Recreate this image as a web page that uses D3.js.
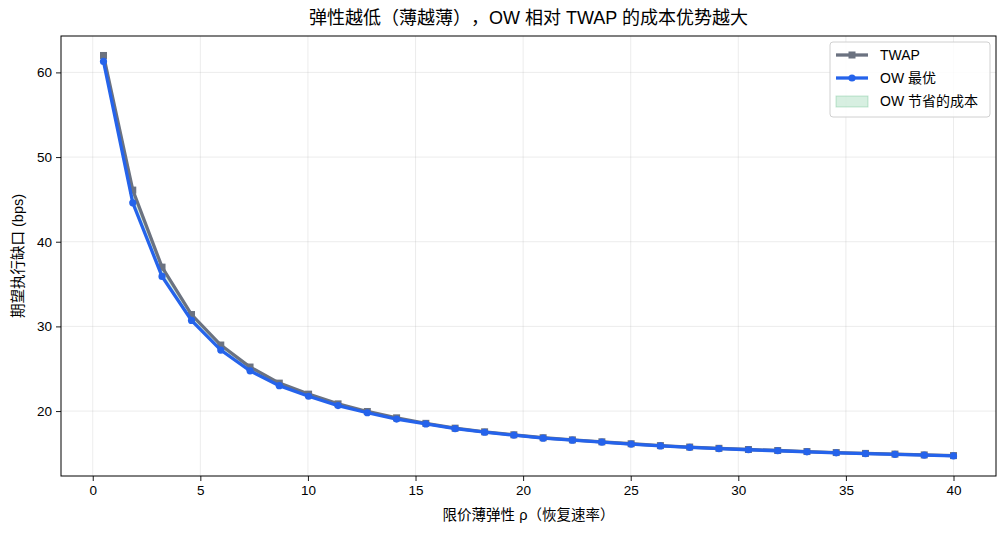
<!DOCTYPE html>
<html>
<head>
<meta charset="utf-8">
<script src="https://cdn.jsdelivr.net/npm/d3@7"></script>
<style>
  body { margin: 0; background: #fff; }
  svg text {
    font-family: "Liberation Sans", Arial, "Noto Sans CJK SC", sans-serif;
    fill: #000;
    text-spacing-trim: space-all;
  }
</style>
</head>
<body>
<div id="chart" lang="zh-CN"></div>
<script>
// ============== Data ==============
const rho = [0.50, 1.86, 3.22, 4.59, 5.95, 7.31, 8.67, 10.03, 11.40, 12.76,
  14.12, 15.48, 16.84, 18.21, 19.57, 20.93, 22.29, 23.66, 25.02, 26.38,
  27.74, 29.10, 30.47, 31.83, 33.19, 34.55, 35.91, 37.28, 38.64, 40.00];

const twap = [62.0, 46.1, 37.0, 31.4, 27.8, 25.2, 23.3, 22.0, 20.85, 19.95,
  19.2, 18.55, 17.98, 17.55, 17.2, 16.85, 16.6, 16.37, 16.14, 15.92,
  15.75, 15.6, 15.46, 15.34, 15.22, 15.1, 15.0, 14.92, 14.82, 14.74];

const ow = [61.3, 44.6, 35.9, 30.7, 27.2, 24.75, 23.0, 21.75, 20.65, 19.8,
  19.05, 18.48, 17.92, 17.5, 17.15, 16.8, 16.56, 16.33, 16.1, 15.88,
  15.72, 15.56, 15.43, 15.31, 15.19, 15.07, 14.97, 14.89, 14.79, 14.7];

const xTicks = [0, 5, 10, 15, 20, 25, 30, 35, 40];
const yTicks = [20, 30, 40, 50, 60];

const title = '弹性越低（薄越薄），OW 相对 TWAP 的成本优势越大';
const xLabel = '限价薄弹性 ρ（恢复速率）';
const yLabel = '期望执行缺口 (bps)';
const legendItems = ['TWAP', 'OW 最优', 'OW 节省的成本'];

// ============== Layout ==============
const width = 1008, height = 534;
const plotL = 61, plotR = 996, plotT = 36, plotB = 476;

const svg = d3.select('#chart').append('svg')
  .attr('width', width)
  .attr('height', height);

const x = d3.scaleLinear().domain([-1.475, 41.975]).range([plotL, plotR]);
const y = d3.scaleLinear().domain([12.33, 64.3]).range([plotB, plotT]);

// grid
svg.append('g').selectAll('line')
  .data(xTicks).enter().append('line')
    .attr('x1', d => x(d)).attr('x2', d => x(d))
    .attr('y1', plotT).attr('y2', plotB)
    .attr('stroke', '#b0b0b0').attr('stroke-opacity', 0.3).attr('stroke-width', 0.8);

svg.append('g').selectAll('line')
  .data(yTicks).enter().append('line')
    .attr('x1', plotL).attr('x2', plotR)
    .attr('y1', d => y(d)).attr('y2', d => y(d))
    .attr('stroke', '#b0b0b0').attr('stroke-opacity', 0.3).attr('stroke-width', 0.8);

// ============== Fill between ==============
const pts = rho.map((r, i) => ({r, t: twap[i], o: ow[i]}));

svg.append('path')
  .datum(pts)
  .attr('d', d3.area().x(d => x(d.r)).y0(d => y(d.o)).y1(d => y(d.t)))
  .attr('fill', '#22a55b').attr('fill-opacity', 0.18)
  .attr('stroke', '#22a55b').attr('stroke-opacity', 0.18);

// ============== Lines ==============
const line = d3.line().x(d => x(d[0])).y(d => y(d[1]));
const twapColor = '#6b7280', owColor = '#2563eb';

svg.append('path')
  .datum(rho.map((r, i) => [r, twap[i]]))
  .attr('d', line)
  .attr('fill', 'none').attr('stroke', twapColor).attr('stroke-width', 3.3);

svg.append('g').selectAll('rect')
  .data(rho.map((r, i) => [r, twap[i]]))
  .enter().append('rect')
    .attr('x', d => x(d[0]) - 3.5).attr('y', d => y(d[1]) - 3.5)
    .attr('width', 7).attr('height', 7)
    .attr('fill', twapColor);

svg.append('path')
  .datum(rho.map((r, i) => [r, ow[i]]))
  .attr('d', line)
  .attr('fill', 'none').attr('stroke', owColor).attr('stroke-width', 3.3);

svg.append('g').selectAll('circle')
  .data(rho.map((r, i) => [r, ow[i]]))
  .enter().append('circle')
    .attr('cx', d => x(d[0])).attr('cy', d => y(d[1]))
    .attr('r', 3.6)
    .attr('fill', owColor);

// ============== Axes ==============
const xAxis = svg.append('g')
  .attr('transform', `translate(0,${plotB})`)
  .call(d3.axisBottom(x).tickValues(xTicks).tickSize(5).tickPadding(4));
const yAxis = svg.append('g')
  .attr('transform', `translate(${plotL},0)`)
  .call(d3.axisLeft(y).tickValues(yTicks).tickSize(5).tickPadding(4));

[xAxis, yAxis].forEach(a => {
  a.select('.domain').remove();
  a.selectAll('text').attr('font-size', 13.5).attr('fill', '#000');
  a.selectAll('line').attr('stroke', '#000').attr('stroke-width', 0.9);
});

svg.append('rect')
  .attr('x', plotL).attr('y', plotT)
  .attr('width', plotR - plotL).attr('height', plotB - plotT)
  .attr('fill', 'none').attr('stroke', '#000').attr('stroke-width', 1);

// ============== Labels ==============
svg.append('text')
  .text(title)
  .attr('x', (plotL + plotR) / 2).attr('y', 24)
  .attr('text-anchor', 'middle').attr('font-size', 18);

svg.append('text')
  .text(xLabel)
  .attr('x', (plotL + plotR) / 2).attr('y', 520)
  .attr('text-anchor', 'middle').attr('font-size', 14.5);

svg.append('text')
  .text(yLabel)
  .attr('transform', `translate(23,${(plotT + plotB) / 2}) rotate(-90)`)
  .attr('text-anchor', 'middle').attr('font-size', 14.5);

// ============== Legend ==============
const lg = svg.append('g').attr('transform', 'translate(830,42)');
lg.append('rect')
  .attr('width', 160).attr('height', 75).attr('rx', 3)
  .attr('fill', '#fff').attr('fill-opacity', 0.85)
  .attr('stroke', '#d0d0d0');

const rowY = [13, 36, 59];
lg.append('line').attr('x1', 6).attr('x2', 38).attr('y1', rowY[0]).attr('y2', rowY[0])
  .attr('stroke', twapColor).attr('stroke-width', 3.3);
lg.append('rect').attr('x', 18.5).attr('y', rowY[0] - 3.5).attr('width', 7).attr('height', 7)
  .attr('fill', twapColor);
lg.append('line').attr('x1', 6).attr('x2', 38).attr('y1', rowY[1]).attr('y2', rowY[1])
  .attr('stroke', owColor).attr('stroke-width', 3.3);
lg.append('circle').attr('cx', 22).attr('cy', rowY[1]).attr('r', 3.6)
  .attr('fill', owColor);
lg.append('rect').attr('x', 6).attr('y', rowY[2] - 5).attr('width', 32).attr('height', 11)
  .attr('fill', '#22a55b').attr('fill-opacity', 0.18)
  .attr('stroke', '#22a55b').attr('stroke-opacity', 0.25);

lg.selectAll('text.leg')
  .data(legendItems).enter().append('text')
    .attr('class', 'leg')
    .text(d => d)
    .attr('x', 50).attr('y', (d, i) => rowY[i] + 5)
    .attr('font-size', 14);
</script>
</body>
</html>
